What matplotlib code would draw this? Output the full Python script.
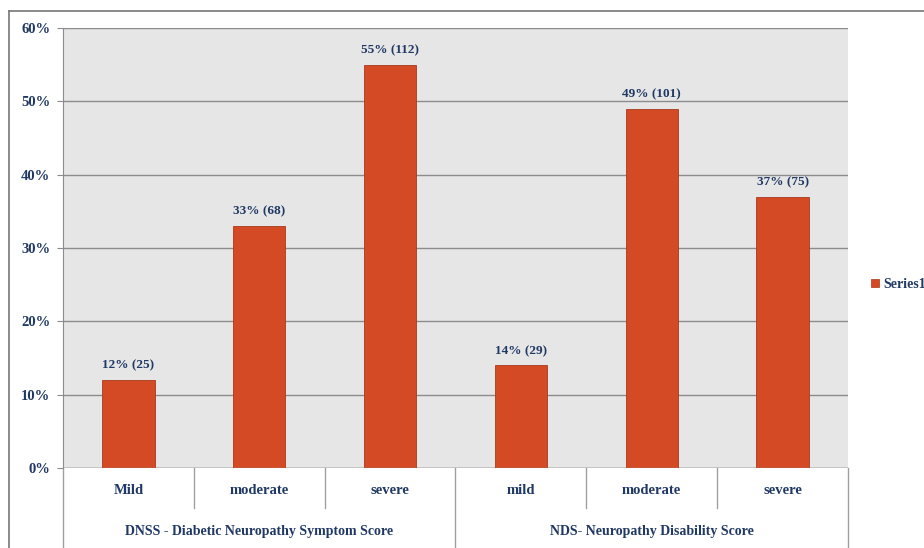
import numpy as np
import matplotlib
matplotlib.use("Agg")
from matplotlib import pyplot as plt
from matplotlib.patches import Rectangle
from matplotlib.lines import Line2D

# data
categories = ["Mild", "moderate", "severe", "mild", "moderate", "severe"]
groups = ["DNSS - Diabetic Neuropathy Symptom Score", "NDS- Neuropathy Disability Score"]
percents = [12, 33, 55, 14, 49, 37]
counts = [25, 68, 112, 29, 101, 75]
yticks = [0, 10, 20, 30, 40, 50, 60]

navy = "#1F3864"
barcol = "#D34A24"

plt.rcParams['font.family'] = ['Liberation Serif', 'DejaVu Serif']
plt.rcParams['font.weight'] = 'bold'

fig = plt.figure(figsize=(9.24, 5.48), dpi=100)
ax = fig.add_axes([63/924, 80/548, 785/924, 440/548])
ax.set_facecolor("#E6E6E6")

x = np.arange(len(categories))
ax.bar(x, percents, width=0.4, color=barcol, edgecolor="#A8391B", linewidth=0.6, zorder=3)

for xi, p, c in zip(x, percents, counts):
    ax.annotate("%d%% (%d)" % (p, c), (xi, p), xytext=(0, 6), textcoords="offset points",
                ha="center", va="bottom", fontsize=9.5, color=navy, fontweight="bold")

ax.set_xlim(-0.5, len(categories) - 0.5)
ax.set_ylim(0, 60)
ax.set_yticks(yticks)
ax.set_yticklabels(["%d%%" % t for t in yticks], fontsize=10.5, color=navy, fontweight="bold")
ax.tick_params(axis="y", length=4, color="#8C8C8C", pad=5)
ax.set_xticks([])
ax.yaxis.grid(True, color="#8C8C8C", linewidth=1.0, zorder=1)
ax.set_axisbelow(True)
for s in ["top", "right", "bottom"]:
    ax.spines[s].set_visible(False)
ax.spines["left"].set_color("#8C8C8C")
ax.axhline(0, color="#8C8C8C", linewidth=1.0, zorder=4)

# multi-level category axis
tr = ax.get_xaxis_transform()
for i in range(len(categories) + 1):
    b = i - 0.5
    low = -0.182 if i % 3 == 0 else -0.091
    ax.add_line(Line2D([b, b], [0, low], transform=tr, color="#A0A0A0", linewidth=1.0, clip_on=False))
for xi, cat in zip(x, categories):
    ax.text(xi, -0.052, cat, transform=tr, ha="center", va="center", fontsize=10.5, color=navy, fontweight="bold")
for gi, g in enumerate(groups):
    ax.text(gi * 3 + 1, -0.145, g, transform=tr, ha="center", va="center", fontsize=10, color=navy, fontweight="bold")

# legend
fig.patches.append(Rectangle((871/924, (548-287)/548), 8/924, 8/548, transform=fig.transFigure,
                             facecolor=barcol, edgecolor="#A8391B", linewidth=0.5))
fig.text(883/924, (548-284)/548, "Series1", ha="left", va="center", fontsize=10, color=navy, fontweight="bold")

# outer chart border (top and left)
fig.add_artist(Line2D([9/924, 1], [1 - 11/548, 1 - 11/548], transform=fig.transFigure, color="#777777", linewidth=1.2))
fig.add_artist(Line2D([9/924, 9/924], [0, 1 - 11/548], transform=fig.transFigure, color="#777777", linewidth=1.2))

fig.savefig("out.png", dpi=100)
